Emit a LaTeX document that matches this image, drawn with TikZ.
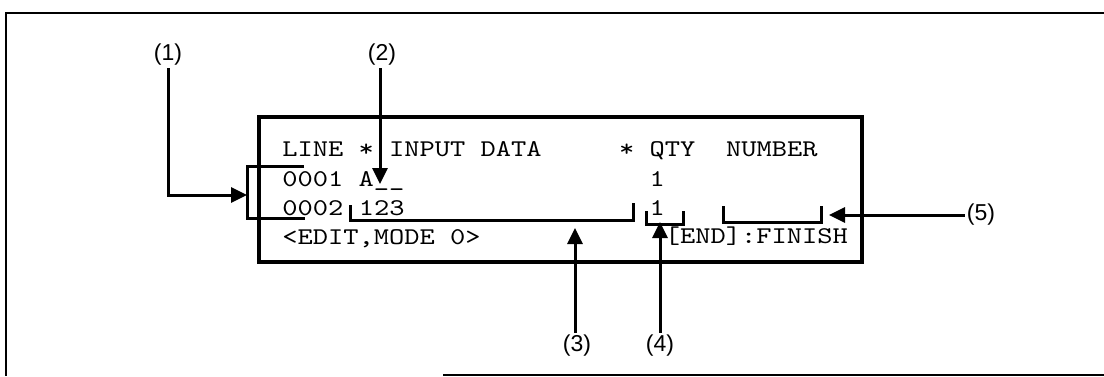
\documentclass[tikz,border=0pt]{standalone}
\usepackage{fontspec}
\setmainfont{Liberation Sans}
\newfontfamily\scrmono{lmmono10-regular}[Extension=.otf, FakeStretch=1.21]
\usetikzlibrary{arrows.meta}
\begin{document}
\begin{tikzpicture}[x=0.5pt,y=-0.5pt,
  screentext/.style={font=\scrmono\fontsize{12}{14}\selectfont, anchor=base west, inner sep=0pt},
  lbl/.style={font=\fontsize{11.5}{13}\selectfont, inner sep=1pt},
  brk/.style={line width=1.5pt},
  ptr/.style={line width=1.5pt, -{Triangle[length=8pt,width=7.5pt]}},
]
\useasboundingbox (0,0) rectangle (1104,376);
% outer frame
\draw[line width=1pt] (1104,13) -- (6,13) -- (6,376);
\draw[line width=1pt] (443,375) -- (1104,375);
% screen box
\draw[line width=2pt] (259,117) rectangle (862,262);
% screen text
\node[screentext] (r1a) at (282,156) {LINE * INPUT DATA};
\node[screentext] (r1b) at (618.6,156) {*};
\node[screentext] (r1c) at (649.2,156) {QTY};
\node[screentext] (r1d) at (725.7,156) {NUMBER};
\node[screentext] (r2a) at (282,186) {0001 A\_\_};
\node[screentext] (r2b) at (649.2,186) {1};
\node[screentext] (r3a) at (282,215) {0002};
\node[screentext] (r3b) at (358.5,215) {123};
\node[screentext] (r3c) at (649.2,215) {1};
\node[screentext] (r4a) at (282,244) {<EDIT,MODE 0>};
\node[screentext] (r4b) at (664.5,243) {[END]:FINISH};
% brackets
\draw[brk] (304,166) -- (247,166) -- (247,218) -- (305,218);
\draw[brk] (350,205) -- (350,220) -- (633,220) -- (633,203);
\draw[brk] (646,211) -- (646,224) -- (683,224) -- (683,211);
\draw[brk] (723,206) -- (723,222) -- (821,222) -- (821,206);
% arrow targets
\coordinate (b1) at (247,195);
\coordinate (b2) at (380,184);
\coordinate (b3) at (575,228);
\coordinate (b4) at (660,222);
\coordinate (b5) at (829,215);
% labels
\node[lbl] (l1) at (168,55) {(1)};
\node[lbl] (l2) at (382,55) {(2)};
\node[lbl] (l3) at (577,346) {(3)};
\node[lbl] (l4) at (660,346) {(4)};
\node[lbl] (l5) at (981,215) {(5)};
% pointers
\draw[ptr] (l1.south) |- (b1);
\draw[ptr] (l2.south -| b2) -- (b2);
\draw[ptr] (l3.north -| b3) -- (b3);
\draw[ptr] (l4.north -| b4) -- (b4);
\draw[ptr] (l5.west) -- (b5);
\end{tikzpicture}
\end{document}
